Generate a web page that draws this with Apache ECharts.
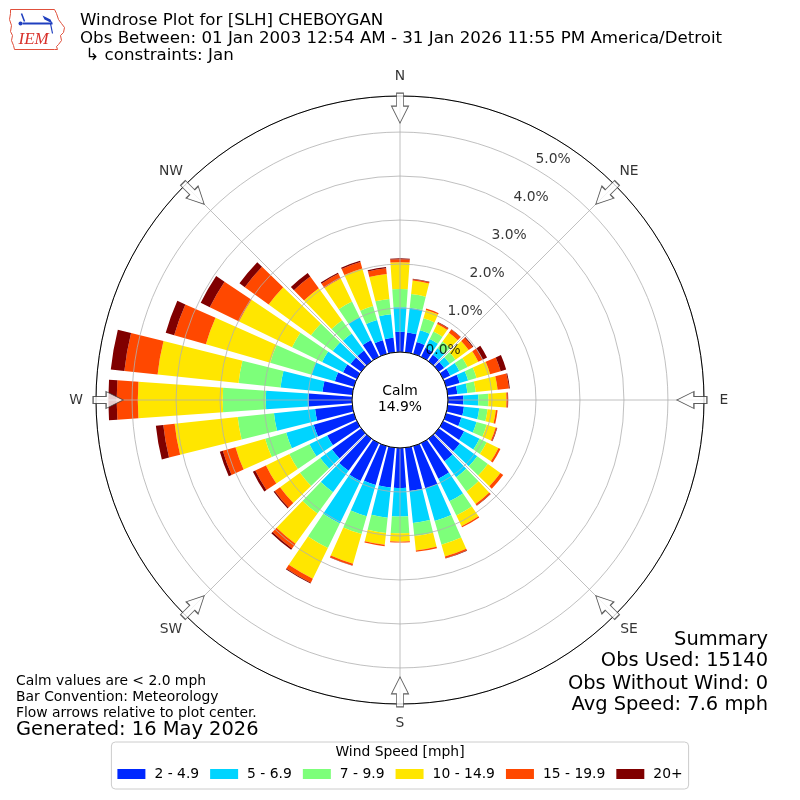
<!DOCTYPE html>
<html>
<head>
<meta charset="utf-8">
<script src="https://cdn.jsdelivr.net/npm/echarts@6/dist/echarts.min.js"></script>
<style>
html,body{margin:0;padding:0;background:#fff;}
#chart{width:800px;height:800px;}
</style>
</head>
<body>
<div id="chart"></div>
<script>
// ---------------- data ----------------
const directions = ['0','10','20','30','40','50','60','70','80','90','100','110','120','130','140','150','160','170',
                    '180','190','200','210','220','230','240','250','260','270','280','290','300','310','320','330','340','350'];
const speedBins = ['2 - 4.9', '5 - 6.9', '7 - 9.9', '10 - 14.9', '15 - 19.9', '20+'];

// percent of observations per direction (0,10,...,350 deg) for each speed bin
const speed2to5 = [0.46,0.45,0.28,0.23,0.18,0.15,0.18,0.32,0.22,0.35,0.37,0.36,0.53,0.59,0.63,0.90,1.00,0.99,
                   0.91,0.91,0.92,0.96,0.90,0.82,0.75,0.95,0.85,0.99,0.68,0.45,0.35,0.30,0.30,0.42,0.32,0.33];
const speed5to7 = [0.56,0.57,0.28,0.22,0.18,0.16,0.23,0.20,0.23,0.34,0.35,0.36,0.39,0.49,0.45,0.57,0.77,0.73,
                   0.65,0.69,0.74,1.07,0.60,0.33,0.45,0.65,0.94,0.97,0.96,0.55,0.53,0.50,0.48,0.58,0.48,0.54];
const speed7to10 = [0.41,0.31,0.28,0.19,0.19,0.16,0.21,0.20,0.19,0.23,0.19,0.24,0.18,0.30,0.40,0.36,0.56,0.30,
                    0.38,0.35,0.42,0.62,0.60,0.57,0.51,0.50,0.83,0.98,0.96,0.98,0.76,0.61,0.37,0.40,0.33,0.35];
const speed10to15 = [0.61,0.31,0.20,0.19,0.25,0.37,0.27,0.32,0.50,0.41,0.19,0.21,0.30,0.35,0.35,0.27,0.28,0.33,
                     0.19,0.27,0.70,0.78,0.85,0.56,0.59,0.70,1.44,1.93,1.85,1.52,1.34,1.19,0.90,0.58,0.89,0.57];
const speed15to20 = [0.07,0.03,0.03,0.04,0.09,0.11,0.11,0.25,0.26,0.03,0.04,0.03,0.05,0.08,0.04,0.03,0.04,0.03,
                     0.02,0.03,0.04,0.10,0.13,0.15,0.27,0.30,0.26,0.48,0.76,0.75,0.74,0.67,0.33,0.12,0.15,0.13];
const speed20plus = [0.02,0.01,0.00,0.01,0.01,0.02,0.11,0.13,0.02,0.01,0.00,0.01,0.00,0.00,0.01,0.00,0.01,0.00,
                     0.00,0.00,0.01,0.02,0.04,0.03,0.06,0.07,0.17,0.19,0.31,0.20,0.23,0.15,0.10,0.03,0.03,0.03];

const ringTicks = [0, 1, 2, 3, 4, 5];
const compassNames = ['N', 'NE', 'E', 'SE', 'S', 'SW', 'W', 'NW'];
const compassAngles = [0, 45, 90, 135, 180, 225, 270, 315];
const calmPercent = '14.9%';
const titleLines = ['Windrose Plot for [SLH] CHEBOYGAN',
                    'Obs Between: 01 Jan 2003 12:54 AM - 31 Jan 2026 11:55 PM America/Detroit',
                    ' \u21B3 constraints: Jan'];
const noteLines = ['Calm values are < 2.0 mph', 'Bar Convention: Meteorology', 'Flow arrows relative to plot center.'];
const generatedText = 'Generated: 16 May 2026';
const summaryLines = ['Summary', 'Obs Used: 15140', 'Obs Without Wind: 0', 'Avg Speed: 7.6 mph'];

// ---------------- style ----------------
const binColors = ['#0028ff', '#00d4ff', '#7dff7a', '#ffe600', '#ff4800', '#800000'];
const FONT = '"DejaVu Sans", sans-serif';
const SMALL = 13.89, MED = 16.67, BIG = 19.44;
const R_MAX = 5.82;          // percent at outer circle
const R_ARROW = 5.545;       // arrow centre
const R_COMPASS = 6.27;      // compass label centre
const RING_LABEL_ANGLE = 30;

const seriesValues = [speed2to5, speed5to7, speed7to10, speed10to15, speed15to20, speed20plus];

const barSeries = speedBins.map((name, i) => ({
  type: 'bar',
  name: name,
  coordinateSystem: 'polar',
  polarIndex: 0,
  stack: 'wind',
  barCategoryGap: '20%',
  data: seriesValues[i],
  itemStyle: { color: binColors[i] },
  silent: true,
  z: 2
}));

const summaryTops = [630, 651, 674, 695];
const summaryGraphics = summaryLines.map((t, i) => ({
  type: 'text', right: 32, top: summaryTops[i], z: 20,
  style: { text: t, fontSize: BIG, fontFamily: FONT, fill: '#000' }
}));

const chart = echarts.init(document.getElementById('chart'), null, { renderer: 'canvas' });

const option = {
  backgroundColor: '#ffffff',
  animation: false,
  textStyle: { fontFamily: FONT },
  polar: [
    { center: ['50%', '50%'], radius: [48, 304] },
    { center: ['50%', '50%'], radius: [48, 304] }
  ],
  angleAxis: [
    {
      polarIndex: 0, type: 'category', data: directions, startAngle: 95, clockwise: true,
      boundaryGap: true, show: false
    },
    {
      polarIndex: 1, type: 'value', min: 0, max: 360, interval: 45, startAngle: 90, clockwise: true,
      z: 6,
      axisLine: { show: true, lineStyle: { color: '#000', width: 1 } },
      axisTick: { show: false },
      axisLabel: { show: false },
      splitLine: { show: true, lineStyle: { color: '#b0b0b0', width: 0.8 } }
    }
  ],
  radiusAxis: [
    { polarIndex: 0, type: 'value', min: 0, max: R_MAX, show: false },
    {
      polarIndex: 1, type: 'value', min: 0, max: R_MAX, interval: 1, z: 5,
      axisLine: { show: false }, axisTick: { show: false }, axisLabel: { show: false },
      splitLine: { show: true, lineStyle: { color: '#b0b0b0', width: 0.8 } }
    }
  ],
  legend: {
    data: speedBins,
    left: 'center',
    bottom: 11,
    icon: 'rect',
    itemWidth: 28,
    itemHeight: 10,
    itemGap: 11,
    padding: [25, 6, 8, 6],
    borderColor: '#cccccc',
    borderWidth: 1,
    borderRadius: 4,
    selectedMode: false,
    textStyle: { fontSize: SMALL, color: '#000', fontFamily: FONT, padding: [0, 0, 0, 4] }
  },
  series: barSeries.concat([
    {
      type: 'scatter', coordinateSystem: 'polar', polarIndex: 1, silent: true, clip: false, z: 10,
      symbol: 'path://M-3.5,0 L3.5,0 L3.5,13 L8.5,13 L0,30 L-8.5,13 L-3.5,13 Z',
      symbolSize: [17, 30],
      itemStyle: { color: '#ffffff', borderColor: '#333333', borderWidth: 1 },
      data: compassAngles.map(a => ({ value: [R_ARROW, a], symbolRotate: -a }))
    },
    {
      type: 'scatter', coordinateSystem: 'polar', polarIndex: 1, silent: true, clip: false, z: 11,
      symbolSize: 1, itemStyle: { color: 'rgba(0,0,0,0)' },
      label: { show: true, position: 'inside', formatter: '{b}', fontSize: SMALL, color: '#000', fontFamily: FONT },
      data: compassNames.map((n, i) => ({ name: n, value: [R_COMPASS, compassAngles[i]] }))
    },
    {
      type: 'scatter', coordinateSystem: 'polar', polarIndex: 1, silent: true, clip: false, z: 11,
      symbolSize: 1, itemStyle: { color: 'rgba(0,0,0,0)' },
      label: {
        show: true, position: [2, -1], align: 'left', verticalAlign: 'bottom',
        fontSize: SMALL, color: '#000', fontFamily: FONT,
        formatter: p => p.value[0].toFixed(1) + '%'
      },
      data: ringTicks.map(t => [t, RING_LABEL_ANGLE])
    }
  ]),
  graphic: [
    {
      type: 'text', left: 80, top: 12, z: 20,
      style: { text: titleLines.join('\n'), fontSize: MED, fontFamily: FONT, fill: '#000', lineHeight: 17.5 }
    },
    {
      type: 'text', left: 'center', top: 384, z: 20,
      style: { text: 'Calm\n' + calmPercent, fontSize: SMALL, fontFamily: FONT, fill: '#000', align: 'center', textAlign: 'center', lineHeight: 15.5 }
    },
    {
      type: 'text', left: 16, top: 673, z: 20,
      style: { text: noteLines.join('\n'), fontSize: SMALL, fontFamily: FONT, fill: '#000', lineHeight: 16 }
    },
    {
      type: 'text', left: 16, top: 720, z: 20,
      style: { text: generatedText, fontSize: BIG, fontFamily: FONT, fill: '#000' }
    },
    {
      type: 'text', left: 'center', top: 745, z: 20,
      style: { text: 'Wind Speed [mph]', fontSize: SMALL, fontFamily: FONT, fill: '#000' }
    },
    {
      type: 'group', left: 7, top: 7, z: 20,
      children: [
        {
          type: 'polyline',
          shape: { points: [[2,2],[46,2],[48,6],[50,12],[53,16],[56,20],[55,25],[52,28],[53,33],[50,37],[48,39],[49,42],[46,42],[6,42],[5,38],[3,33],[4,28],[2,24],[3,18],[1,12],[2,6],[2,2]] },
          style: { stroke: '#e0503c', lineWidth: 1, fill: null }
        },
        { type: 'line', shape: { x1: 14, y1: 16, x2: 44, y2: 16 }, style: { stroke: '#1f3fbf', lineWidth: 2 } },
        { type: 'line', shape: { x1: 13, y1: 6, x2: 16, y2: 14 }, style: { stroke: '#1f3fbf', lineWidth: 1.5 } },
        { type: 'circle', shape: { cx: 12, cy: 16, r: 2 }, style: { fill: '#1f3fbf' } },
        { type: 'polygon', shape: { points: [[34,8],[42,12],[44,16],[36,12]] }, style: { fill: '#1f3fbf' } },
        { type: 'line', shape: { x1: 42, y1: 16, x2: 44, y2: 26 }, style: { stroke: '#1f3fbf', lineWidth: 1.2 } },
        { type: 'text', x: 10, y: 24, style: { text: 'IEM', fontSize: 17, fontFamily: '"Liberation Serif", serif', fontStyle: 'italic', fill: '#d8302a' } }
      ]
    }
  ].concat(summaryGraphics)
};

chart.setOption(option);
</script>
</body>
</html>
